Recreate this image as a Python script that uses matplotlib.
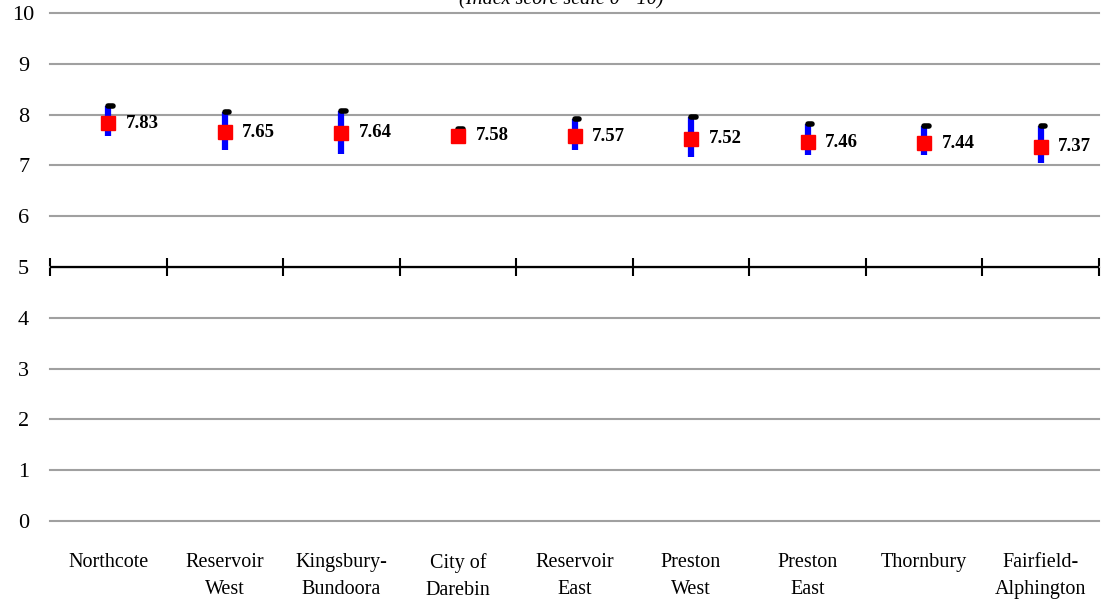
import matplotlib.pyplot as plt

categories = ["Northcote", "Reservoir\nWest", "Kingsbury-\nBundoora", "City of\nDarebin",
              "Reservoir\nEast", "Preston\nWest", "Preston\nEast", "Thornbury", "Fairfield-\nAlphington"]
means = [7.83, 7.65, 7.64, 7.58, 7.57, 7.52, 7.46, 7.44, 7.37]
low = [7.57, 7.30, 7.22, 7.52, 7.30, 7.16, 7.20, 7.20, 7.05]
high = [8.17, 8.05, 8.08, 7.72, 7.91, 7.95, 7.82, 7.77, 7.77]

plt.rcParams['font.family'] = ['Liberation Serif', 'DejaVu Serif']

fig = plt.figure(figsize=(11.01, 6.04), dpi=100)
ax = fig.add_axes([50 / 1101, 83 / 604, 1049 / 1101, 508 / 604])

x = list(range(len(categories)))

# range bars + upper tick
ax.vlines(x, low, high, color='#0000ff', lw=4.5, zorder=3)
ax.hlines(high, [i for i in x], [i + 0.04 for i in x], color='black', lw=4, zorder=4, capstyle='round')
ax.plot(x, means, 's', color='#ff0000', ms=9.5, zorder=5)

for i, v in zip(x, means):
    ax.text(i + 0.15, v, f"{v:.2f}", fontsize=13.5, fontweight='bold', va='center', ha='left', zorder=6)

ax.set_xlim(-0.5, len(categories) - 0.5)
ax.set_ylim(0, 10)
ax.set_yticks(range(0, 11))
ax.yaxis.grid(True, color='#a0a0a0', lw=1.5)
for gl in ax.get_ygridlines():
    gl.set_clip_on(False)
ax.set_axisbelow(True)
for s in ax.spines.values():
    s.set_visible(False)

# axis line at 5
ax.axhline(5, color='black', lw=1.6, zorder=2.5)

ax.set_xticks(x)
ax.set_xticklabels(categories, fontsize=14.5, linespacing=1.6, va='top')
ax.tick_params(axis='x', length=0, pad=23)
ax.tick_params(axis='y', length=0, pad=19, labelsize=16)
for t in ax.get_yticklabels():
    t.set_horizontalalignment('center')

# boundary ticks on the middle axis
sec = ax.secondary_xaxis(0.5)
sec.set_xticks([i - 0.5 for i in range(len(categories) + 1)])
sec.set_xticklabels([])
sec.spines['bottom'].set_visible(False)
sec.tick_params(direction='inout', length=13, width=1.5, color='black')

fig.text(0.51, 1.0, "(Index score scale 0 - 10)", fontsize=14.5, style='italic',
         ha='center', va='center')

fig.savefig("out.png", dpi=100)
